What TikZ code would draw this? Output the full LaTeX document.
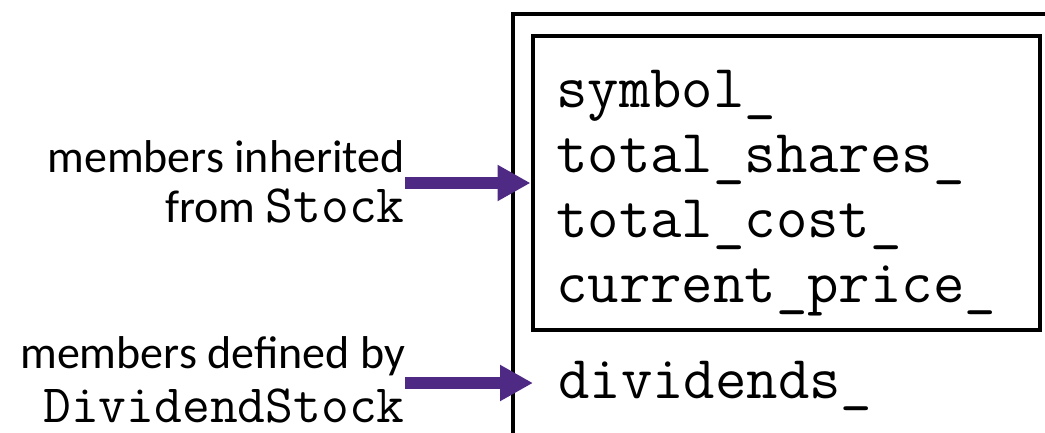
\documentclass[tikz,border=0pt]{standalone}
\usepackage{fontspec}
\setmainfont{Carlito}
\usetikzlibrary{arrows.meta}
\definecolor{arrowpurple}{RGB}{78,42,132}

\begin{document}
\begin{tikzpicture}[x=1pt,y=-1pt,
    caption/.style ={font=\fontsize{46}{50}\selectfont, inner sep=0pt},
    member/.style ={font=\ttfamily\fontsize{61}{65}\selectfont, inner sep=0pt},
    pointer/.style ={arrowpurple, line width=12pt, -{Triangle[length=33pt,width=34pt]}}]
   \useasboundingbox (0,0) rectangle (1045,432);
   \clip (0,0) rectangle (1045,432);
   % object and its Stock part
   \draw[line width=4pt] (513,470) -- (513,14) -- (1090,14);
   \node[draw, line width=4pt, minimum width=507pt, minimum height=294pt] (stockbox) at (786,183) {};
   \foreach \name [count=\i from 0] in {symbol\_, total\_shares\_, total\_cost\_, current\_price\_}
     \node[member, anchor=base west] (m\i) at (556, 107+65*\i) {\name};
   \node[member, anchor=base west] (dividends) at (558,398) {dividends\_};
   \coordinate (divtip) at (533,383);
   % labels on the left
   \node[caption, anchor=base east] (inh1) at (405,172) {members inherited};
   \node[caption, anchor=base east] (inh2) at (405,222) {from {\ttfamily\fontsize{54}{50}\selectfont Stock}};
   \node[caption, anchor=base east] (def1) at (405,368) {members defined by};
   \node[caption, anchor=base east] (def2) at (405,422) {{\ttfamily\fontsize{54}{50}\selectfont DividendStock}};
   \draw[pointer] (inh1.east |- stockbox.west) -- (stockbox.west);
   \draw[pointer] (def1.east |- divtip) -- (divtip);
 \end{tikzpicture}
\end{document}
